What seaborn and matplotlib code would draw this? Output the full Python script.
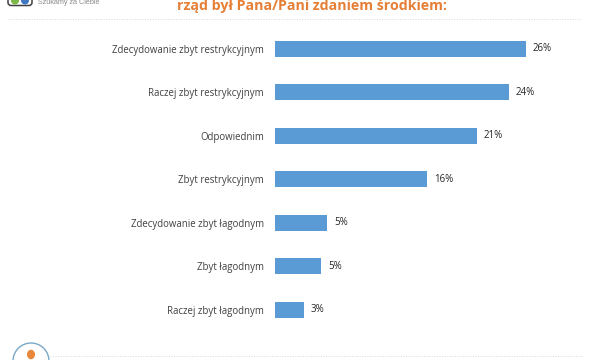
import seaborn as sns
import matplotlib.pyplot as plt
import pandas as pd
from matplotlib.patches import Circle, FancyBboxPatch, Ellipse
from matplotlib.lines import Line2D

categories = ['Zdecydowanie zbyt restrykcyjnym', 'Raczej zbyt restrykcyjnym', 'Odpowiednim',
              'Zbyt restrykcyjnym', 'Zdecydowanie zbyt łagodnym', 'Zbyt łagodnym', 'Raczej zbyt łagodnym']
values = [26.0, 24.2, 20.9, 15.8, 5.4, 4.8, 3.0]
labels = ['26%', '24%', '21%', '16%', '5%', '5%', '3%']
title_text = 'rząd był Pana/Pani zdaniem środkiem:'
logo_text = 'Szukamy za Ciebie'

W, H = 589, 360
sns.set_theme(style='white')
plt.rcParams['font.family'] = ['Open Sans', 'DejaVu Sans']

df = pd.DataFrame({'odp': categories, 'proc': values})
fig = plt.figure(figsize=(W / 100, H / 100), dpi=100)
ax = fig.add_axes([275 / W, 1 - 331.5 / H, 314 / W, 304.5 / H])

sns.barplot(data=df, y='odp', x='proc', color='#5b9bd5', saturation=1, width=0.37, linewidth=0, ax=ax)
ax.set_xlim(0, 314 / 9.65)
ax.set_xlabel('')
ax.set_ylabel('')
ax.set_xticks([])
ax.tick_params(axis='y', length=0, pad=8, labelsize=6.9, labelcolor='#404040')
sns.despine(ax=ax, left=True, bottom=True)

for bar, lab in zip(ax.patches, labels):
    ax.annotate(lab, (bar.get_width(), bar.get_y() + bar.get_height() / 2), xytext=(5, 0),
                textcoords='offset points', va='center', ha='left', fontsize=7, color='#262626')

# title, cut off by the top edge like in the screenshot
fig.text(312 / W, 1 - 6 / H, title_text, ha='center', va='center', fontsize=10.2,
         fontweight='bold', color='#e57f36')

# page furniture: dotted rules
fig.add_artist(Line2D([8 / W, 582 / W], [1 - 19 / H] * 2, color='#d9d9d9', lw=0.7, ls=':'))
fig.add_artist(Line2D([50 / W, 582 / W], [1 - 356 / H] * 2, color='#d9d9d9', lw=0.7, ls=':'))

# logo at the top left
pix = fig.add_axes([0, 0, 1, 1], zorder=5)
pix.set_xlim(0, W)
pix.set_ylim(H, 0)
pix.axis('off')
pix.add_patch(FancyBboxPatch((8, -8), 24, 13.5, boxstyle='round,pad=0,rounding_size=3',
                             fc='white', ec='#404040', lw=1.1))
pix.add_patch(Circle((15, 0.5), 4, fc='#7ab648', ec='none'))
pix.add_patch(Circle((25, 0.5), 4, fc='#3f78c0', ec='none'))
pix.text(38, 3, logo_text, fontsize=5.2, color='#8a8a8a', va='center', ha='left',
         family=['Liberation Sans', 'DejaVu Sans'])

# icon at the bottom left
pix.add_patch(Circle((31, 361), 18, fc='white', ec='#7aa7c7', lw=1))
pix.add_patch(Ellipse((31, 354.5), 8, 9.5, fc='#e8873a', ec='none'))

fig.savefig('out.png', dpi=100)
